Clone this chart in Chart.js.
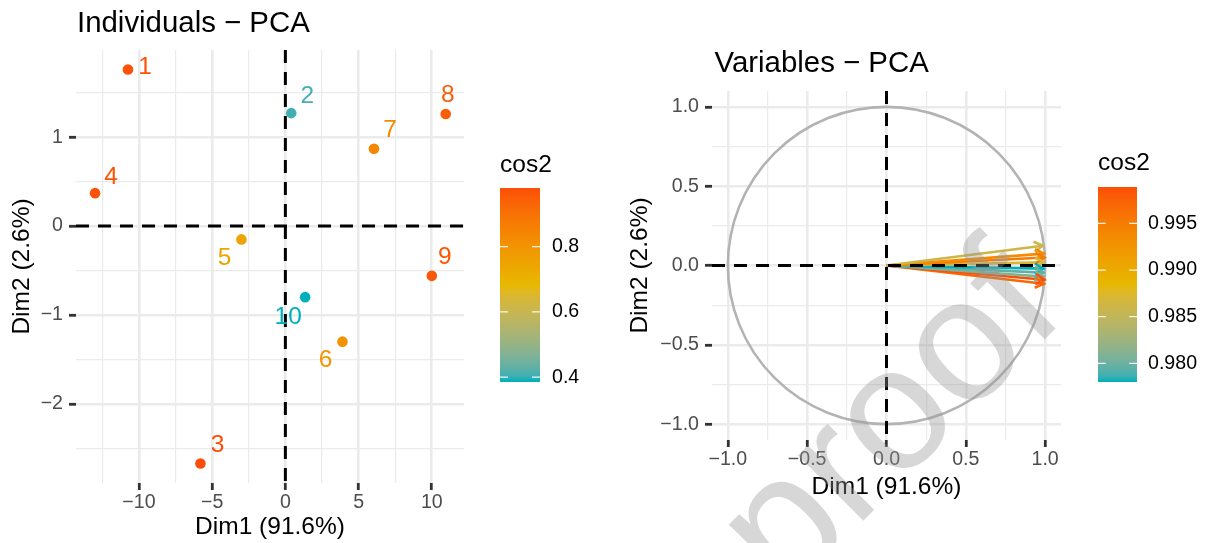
<!DOCTYPE html>
<html>
<head>
<meta charset="utf-8">
<script src="https://cdn.jsdelivr.net/npm/chart.js@4.4.0/dist/chart.umd.min.js"></script>
<style>
  html, body { margin: 0; padding: 0; background: #fff; }
  #wrap { position: relative; width: 1206px; height: 543px; overflow: hidden; }
  #indBox { position: absolute; left: 0; top: 0; width: 600px; height: 543px; }
  #varBox { position: absolute; left: 600px; top: 0; width: 606px; height: 543px; }
  #mark { position: absolute; left: 0; top: 0; pointer-events: none; }
</style>
</head>
<body>
<div id="wrap">
  <div id="indBox"><canvas id="indChart" width="600" height="543"></canvas></div>
  <div id="varBox"><canvas id="varChart" width="606" height="543"></canvas></div>
  <canvas id="mark" width="1206" height="543"></canvas>
</div>
<script>
// --- Individuals (PCA scores) ---
const indLabels = ['1', '2', '3', '4', '5', '6', '7', '8', '9', '10'];
const indDim1 = [-10.75, 0.4, -5.8, -13.0, -3.0, 3.9, 6.05, 10.95, 10.0, 1.35];
const indDim2 = [1.76, 1.27, -2.67, 0.37, -0.15, -1.30, 0.87, 1.26, -0.56, -0.80];
const indCos2 = [0.97, 0.405, 0.98, 0.97, 0.75, 0.80, 0.84, 0.95, 0.96, 0.385];

// --- Variables (PCA loadings) ---
const varNames = ['V1', 'V2', 'V3', 'V4', 'V5', 'V6', 'V7', 'V8', 'V9'];
const varDim1 = [0.985, 0.993, 0.996, 0.993, 0.989, 0.989, 0.988, 0.995, 0.992];
const varDim2 = [0.125, 0.075, 0.05, 0.02, -0.02, -0.045, -0.07, -0.09, -0.115];
const varCos2 = [0.9862, 0.9935, 0.9950, 0.9868, 0.9780, 0.9795, 0.9810, 0.9989, 0.9970];

// --- axis ticks ---
const indXMajor = [-10, -5, 0, 5, 10];
const indXMinor = [-12.5, -7.5, -2.5, 2.5, 7.5];
const indYMajor = [-2, -1, 0, 1];
const indYMinor = [-2.5, -1.5, -0.5, 0.5, 1.5];
const varMajor = [-1, -0.5, 0, 0.5, 1];
const varMinor = [-0.75, -0.25, 0.25, 0.75];
const indLegendTicks = [0.4, 0.6, 0.8];
const varLegendTicks = [0.980, 0.985, 0.990, 0.995];

const gradientCols = ['#00AFBB', '#E7B800', '#FC4E07'];
const FONT = "'Liberation Sans', Arial, Helvetica, sans-serif";

// colour ramp interpolated in Lab space (like ggplot's gradientn)
function hexToRgb(h) {
  return [parseInt(h.slice(1, 3), 16), parseInt(h.slice(3, 5), 16), parseInt(h.slice(5, 7), 16)];
}
function toLin(c) { c /= 255; return c <= 0.04045 ? c / 12.92 : Math.pow((c + 0.055) / 1.055, 2.4); }
function fromLin(c) {
  const v = c <= 0.0031308 ? 12.92 * c : 1.055 * Math.pow(c, 1 / 2.4) - 0.055;
  return Math.round(Math.max(0, Math.min(1, v)) * 255);
}
const WX = 0.95047, WZ = 1.08883;
function rgbToLab(rgb) {
  const r = toLin(rgb[0]), g = toLin(rgb[1]), b = toLin(rgb[2]);
  const x = (0.4124 * r + 0.3576 * g + 0.1805 * b) / WX;
  const y = 0.2126 * r + 0.7152 * g + 0.0722 * b;
  const z = (0.0193 * r + 0.1192 * g + 0.9505 * b) / WZ;
  const f = t => t > 0.008856 ? Math.cbrt(t) : 7.787 * t + 16 / 116;
  const fx = f(x), fy = f(y), fz = f(z);
  return [116 * fy - 16, 500 * (fx - fy), 200 * (fy - fz)];
}
function labToRgb(lab) {
  const fy = (lab[0] + 16) / 116, fx = fy + lab[1] / 500, fz = fy - lab[2] / 200;
  const inv = t => t * t * t > 0.008856 ? t * t * t : (t - 16 / 116) / 7.787;
  const x = inv(fx) * WX, y = inv(fy), z = inv(fz) * WZ;
  return [
    fromLin(3.2406 * x - 1.5372 * y - 0.4986 * z),
    fromLin(-0.9689 * x + 1.8758 * y + 0.0415 * z),
    fromLin(0.0557 * x - 0.2040 * y + 1.0570 * z)
  ];
}
const labStops = gradientCols.map(c => rgbToLab(hexToRgb(c)));
function ramp(t) {
  t = Math.max(0, Math.min(1, t));
  const seg = Math.min(labStops.length - 2, Math.floor(t * (labStops.length - 1)));
  const f = t * (labStops.length - 1) - seg;
  const a = labStops[seg], b = labStops[seg + 1];
  const rgb = labToRgb([a[0] + (b[0] - a[0]) * f, a[1] + (b[1] - a[1]) * f, a[2] + (b[2] - a[2]) * f]);
  return `rgb(${rgb[0]}, ${rgb[1]}, ${rgb[2]})`;
}
function colorFor(v, values) {
  const lo = Math.min(...values), hi = Math.max(...values);
  return ramp((v - lo) / (hi - lo));
}

const minus = s => String(s).replace('-', '\u2212');

function gridOpts(majors) {
  return {
    color: '#EBEBEB',
    lineWidth: c => majors.includes(c.tick.value) ? 2.6 : 1.2,
    tickColor: c => majors.includes(c.tick.value) ? '#333333' : 'rgba(0,0,0,0)',
    tickWidth: 2.8,
    tickLength: 7,
    drawTicks: true
  };
}

function axis(opts) {
  return {
    type: 'linear',
    min: opts.min,
    max: opts.max,
    border: { display: false },
    grid: gridOpts(opts.major),
    afterBuildTicks: scale => {
      scale.ticks = opts.major.concat(opts.minor).sort((a, b) => a - b).map(v => ({ value: v }));
    },
    afterFit: scale => {
      if (opts.width) scale.width = opts.width;
      if (opts.height) scale.height = opts.height;
    },
    ticks: {
      color: '#4D4D4D',
      font: { family: FONT, size: 19.6 },
      padding: opts.tickPad,
      maxRotation: 0,
      autoSkip: false,
      callback: v => opts.major.includes(v) ? minus(opts.fmt(v)) : ''
    },
    title: {
      display: true,
      text: opts.title,
      color: '#000',
      font: { family: FONT, size: 24.5, lineHeight: 1.2 },
      padding: opts.titlePad
    }
  };
}

// chart-level helper plugins
const panelTitle = {
  id: 'panelTitle',
  afterDraw(chart, args, o) {
    const ctx = chart.ctx;
    ctx.save();
    ctx.font = `29.4px ${FONT}`;
    ctx.fillStyle = '#000';
    ctx.textAlign = 'left';
    ctx.textBaseline = 'alphabetic';
    ctx.fillText(o.text, chart.chartArea.left + o.dx, chart.chartArea.top + o.dy);
    ctx.restore();
  }
};

function drawZeroLines(chart) {
  const { ctx, chartArea: a, scales } = chart;
  const x0 = scales.x.getPixelForValue(0);
  const y0 = scales.y.getPixelForValue(0);
  ctx.save();
  ctx.strokeStyle = '#000';
  ctx.lineWidth = 3;
  ctx.setLineDash([13, 9]);
  ctx.beginPath();
  ctx.moveTo(a.left, y0); ctx.lineTo(a.right, y0);
  ctx.moveTo(x0, a.top); ctx.lineTo(x0, a.bottom);
  ctx.stroke();
  ctx.restore();
}
const zeroLines = {
  id: 'zeroLines',
  beforeDatasetsDraw(chart, args, o) { if (!o.front) drawZeroLines(chart); },
  afterDatasetsDraw(chart, args, o) { if (o.front) drawZeroLines(chart); }
};

const colorBar = {
  id: 'colorBar',
  afterDraw(chart, args, o) {
    const ctx = chart.ctx;
    const lo = Math.min(...o.values), hi = Math.max(...o.values);
    ctx.save();
    const g = ctx.createLinearGradient(0, o.bottom, 0, o.top);
    for (let i = 0; i <= 30; i++) g.addColorStop(i / 30, ramp(i / 30));
    ctx.fillStyle = g;
    ctx.fillRect(o.x, o.top, o.w, o.bottom - o.top);
    ctx.font = `24.5px ${FONT}`;
    ctx.fillStyle = '#000';
    ctx.textBaseline = 'alphabetic';
    ctx.fillText('cos2', o.x, o.titleY);
    ctx.font = `19.6px ${FONT}`;
    ctx.textBaseline = 'middle';
    ctx.strokeStyle = 'rgba(255,255,255,0.9)';
    ctx.lineWidth = 1.2;
    o.ticks.forEach(t => {
      const y = o.bottom - (t - lo) / (hi - lo) * (o.bottom - o.top);
      ctx.beginPath();
      ctx.moveTo(o.x, y); ctx.lineTo(o.x + o.w / 5, y);
      ctx.moveTo(o.x + o.w, y); ctx.lineTo(o.x + o.w * 4 / 5, y);
      ctx.stroke();
      ctx.fillText(t.toFixed(o.digits), o.labelX, y);
    });
    ctx.restore();
  }
};

// label offsets (pixels) for the individual points, like ggrepel placement
const indLabelDx = [17, 16, 17, 16, -17, -17, 16, 2, 13, -17];
const indLabelDy = [-2, -17, -18, -16, 19, 19, -18, -19, -19, 20];

const pointLabels = {
  id: 'pointLabels',
  afterDatasetsDraw(chart) {
    const ctx = chart.ctx;
    const meta = chart.getDatasetMeta(0);
    ctx.save();
    ctx.font = `24.5px ${FONT}`;
    ctx.textAlign = 'center';
    ctx.textBaseline = 'middle';
    meta.data.forEach((pt, i) => {
      ctx.fillStyle = colorFor(indCos2[i], indCos2);
      ctx.fillText(indLabels[i], pt.x + indLabelDx[i], pt.y + indLabelDy[i]);
    });
    ctx.restore();
  }
};

const unitCircle = {
  id: 'unitCircle',
  beforeDatasetsDraw(chart) {
    const { ctx, scales } = chart;
    const cx = scales.x.getPixelForValue(0), cy = scales.y.getPixelForValue(0);
    const rx = scales.x.getPixelForValue(1) - cx;
    const ry = cy - scales.y.getPixelForValue(1);
    ctx.save();
    ctx.strokeStyle = '#B3B3B3';
    ctx.lineWidth = 2.6;
    ctx.beginPath();
    ctx.ellipse(cx, cy, rx, ry, 0, 0, Math.PI * 2);
    ctx.stroke();
    ctx.restore();
  }
};

const arrowHeads = {
  id: 'arrowHeads',
  afterDatasetsDraw(chart) {
    const ctx = chart.ctx;
    ctx.save();
    chart.data.datasets.forEach((ds, i) => {
      const pts = chart.getDatasetMeta(i).data;
      const a = pts[0], b = pts[1];
      const ang = Math.atan2(b.y - a.y, b.x - a.x);
      const len = 10, spread = Math.PI / 6;
      ctx.strokeStyle = ds.borderColor;
      ctx.lineWidth = 2.6;
      ctx.beginPath();
      ctx.moveTo(b.x - len * Math.cos(ang - spread), b.y - len * Math.sin(ang - spread));
      ctx.lineTo(b.x, b.y);
      ctx.lineTo(b.x - len * Math.cos(ang + spread), b.y - len * Math.sin(ang + spread));
      ctx.stroke();
    });
    ctx.restore();
  }
};

// --- left chart: individuals ---
new Chart(document.getElementById('indChart'), {
  type: 'scatter',
  data: {
    datasets: [{
      label: 'Individuals',
      data: indDim1.map((x, i) => ({ x: x, y: indDim2[i] })),
      pointBackgroundColor: indCos2.map(v => colorFor(v, indCos2)),
      pointBorderWidth: 0,
      pointRadius: 5.3
    }]
  },
  options: {
    responsive: false,
    devicePixelRatio: 1,
    animation: false,
    layout: { padding: { left: 0, top: 50, right: 136, bottom: 0 } },
    scales: {
      x: axis({ min: -14.3, max: 12.2, major: indXMajor, minor: indXMinor, fmt: v => v,
        height: 60, tickPad: 1, title: 'Dim1 (91.6%)', titlePad: { top: 0, bottom: 1.3 } }),
      y: axis({ min: -2.89, max: 1.98, major: indYMajor, minor: indYMinor, fmt: v => v,
        width: 76, tickPad: 6, title: 'Dim2 (2.6%)', titlePad: { top: 7.3, bottom: 0 } })
    },
    plugins: {
      legend: { display: false },
      tooltip: { enabled: false },
      panelTitle: { text: 'Individuals \u2212 PCA', dx: 1, dy: -18 },
      zeroLines: { front: false },
      colorBar: { values: indCos2, ticks: indLegendTicks, digits: 1,
        x: 500, w: 40, top: 188, bottom: 382, titleY: 172, labelX: 552 }
    }
  },
  plugins: [panelTitle, zeroLines, pointLabels, colorBar]
});

// --- right chart: variables ---
new Chart(document.getElementById('varChart'), {
  type: 'scatter',
  data: {
    datasets: varNames.map((name, i) => ({
      label: name,
      data: [{ x: 0, y: 0 }, { x: varDim1[i], y: varDim2[i] }],
      showLine: true,
      borderColor: colorFor(varCos2[i], varCos2),
      borderWidth: 2.6,
      pointRadius: 0
    }))
  },
  options: {
    responsive: false,
    devicePixelRatio: 1,
    animation: false,
    layout: { padding: { left: 0, top: 91, right: 145, bottom: 40 } },
    scales: {
      x: axis({ min: -1.1, max: 1.1, major: varMajor, minor: varMinor, fmt: v => v.toFixed(1),
        height: 63, tickPad: 1, title: 'Dim1 (91.6%)', titlePad: { top: 0, bottom: 1.3 } }),
      y: axis({ min: -1.1, max: 1.1, major: varMajor, minor: varMinor, fmt: v => v.toFixed(1),
        width: 112, tickPad: 6, title: 'Dim2 (2.6%)', titlePad: { top: 25.3, bottom: 0 } })
    },
    plugins: {
      legend: { display: false },
      tooltip: { enabled: false },
      panelTitle: { text: 'Variables \u2212 PCA', dx: 2.5, dy: -19 },
      zeroLines: { front: true },
      colorBar: { values: varCos2, ticks: varLegendTicks, digits: 3,
        x: 498, w: 39, top: 187, bottom: 382, titleY: 170, labelX: 548 }
    }
  },
  plugins: [panelTitle, unitCircle, arrowHeads, zeroLines, colorBar]
});

// --- "proof" watermark across the page ---
(function drawMark() {
  const c = document.getElementById('mark');
  const ctx = c.getContext('2d');
  ctx.save();
  ctx.translate(927, 457);
  ctx.rotate(-45 * Math.PI / 180);
  ctx.font = `175px ${FONT}`;
  ctx.textAlign = 'center';
  ctx.textBaseline = 'alphabetic';
  ctx.fillStyle = 'rgba(150,150,150,0.38)';
  ctx.fillText('proof', 0, 0);
  ctx.restore();
})();
</script>
</body>
</html>
